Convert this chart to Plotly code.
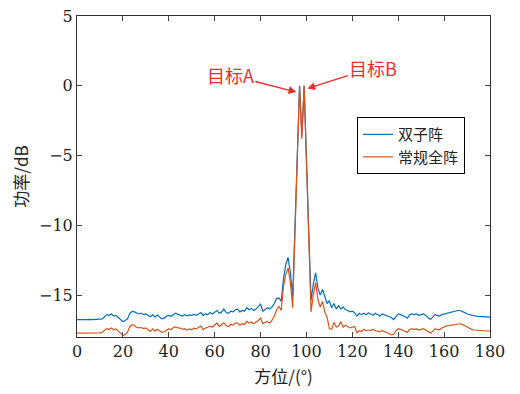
import plotly.graph_objects as go

angles = list(range(0, 181))

twin_array = [
    -16.75, -16.76, -16.74, -16.76, -16.75, -16.74, -16.76, -16.75, -16.74, -16.72,
    -16.74, -16.70, -16.55, -16.40, -16.45, -16.35, -16.50, -16.45, -16.60, -16.75,
    -16.90, -16.82, -16.70, -16.30, -16.17, -16.20, -16.30, -16.35, -16.30, -16.40,
    -16.35, -16.45, -16.55, -16.40, -16.58, -16.42, -16.55, -16.70, -16.65, -16.50,
    -16.45, -16.52, -16.40, -16.30, -16.38, -16.42, -16.50, -16.40, -16.48, -16.42,
    -16.45, -16.38, -16.45, -16.35, -16.25, -16.45, -16.35, -16.40, -16.25, -16.35,
    -16.20, -16.10, -16.30, -16.22, -16.00, -16.25, -16.30, -16.15, -16.20, -16.05,
    -16.00, -16.20, -16.10, -16.15, -15.90, -16.05, -15.95, -16.10, -16.00, -15.85,
    -15.65, -16.15, -16.00, -15.90, -16.00, -15.85, -15.60, -15.25, -15.20, -15.45,
    -13.80, -12.80, -12.30, -13.40, -15.10, -10.20, -5.10, 0.00, -3.60, 0.00,
    -5.20, -10.30, -15.40, -14.20, -13.40, -14.50, -15.00, -14.60, -15.10, -15.60,
    -15.40, -15.90, -15.60, -16.00, -15.75, -16.00, -15.85, -16.05, -16.10, -16.20,
    -16.15, -16.25, -16.50, -16.30, -16.40, -16.30, -16.40, -16.28, -16.35, -16.45,
    -16.30, -16.40, -16.50, -16.35, -16.40, -16.45, -16.55, -16.60, -16.75, -16.55,
    -16.35, -16.40, -16.45, -16.55, -16.65, -16.40, -16.35, -16.40, -16.35, -16.45,
    -16.40, -16.35, -16.45, -16.60, -16.75, -16.60, -16.40, -16.45, -16.50, -16.40,
    -16.35, -16.30, -16.30, -16.25, -16.20, -16.15, -16.10, -16.10, -16.15, -16.25,
    -16.35, -16.40, -16.45, -16.48, -16.50, -16.52, -16.54, -16.55, -16.56, -16.57,
    -16.57,
]

full_array = [
    -17.72, -17.72, -17.71, -17.73, -17.72, -17.70, -17.72, -17.71, -17.70, -17.68,
    -17.70, -17.66, -17.52, -17.40, -17.45, -17.35, -17.48, -17.42, -17.58, -17.75,
    -17.90, -17.82, -17.65, -17.25, -17.12, -17.18, -17.30, -17.35, -17.32, -17.40,
    -17.35, -17.48, -17.60, -17.42, -17.58, -17.45, -17.55, -17.67, -17.62, -17.50,
    -17.40, -17.48, -17.32, -17.28, -17.35, -17.36, -17.45, -17.40, -17.50, -17.42,
    -17.48, -17.36, -17.42, -17.30, -17.22, -17.48, -17.35, -17.30, -17.22, -17.30,
    -17.15, -17.00, -17.25, -17.12, -16.98, -17.20, -17.25, -17.10, -17.15, -17.00,
    -16.98, -17.15, -17.05, -17.10, -16.88, -17.00, -16.92, -17.05, -16.95, -16.82,
    -16.65, -17.05, -16.95, -16.90, -17.00, -16.80, -16.50, -16.05, -15.80, -16.10,
    -14.40, -13.50, -13.05, -14.10, -15.90, -10.60, -5.30, 0.00, -3.80, 0.00,
    -5.40, -10.80, -16.20, -15.00, -14.10, -15.30, -15.85, -15.45, -16.20, -16.60,
    -17.40, -17.45, -16.95, -17.30, -17.20, -16.90, -17.30, -17.15, -17.25, -17.35,
    -17.30, -17.25, -17.70, -17.55, -17.60, -17.45, -17.55, -17.50, -17.55, -17.45,
    -17.55, -17.60, -17.62, -17.55, -17.60, -17.70, -17.75, -17.85, -17.80, -17.55,
    -17.40, -17.45, -17.50, -17.60, -17.67, -17.45, -17.42, -17.45, -17.42, -17.50,
    -17.45, -17.40, -17.50, -17.62, -17.72, -17.60, -17.42, -17.45, -17.48, -17.35,
    -17.25, -17.20, -17.18, -17.15, -17.10, -17.08, -17.05, -17.05, -17.10, -17.20,
    -17.30, -17.40, -17.45, -17.50, -17.52, -17.54, -17.55, -17.56, -17.57, -17.57,
    -17.57,
]

x_ticks = [0, 20, 40, 60, 80, 100, 120, 140, 160, 180]
y_ticks = [5, 0, -5, -10, -15]
y_tick_labels = ["5", "0", "\u22125", "\u221210", "\u221215"]

series_names = ["双子阵", "常规全阵"]
series_colors = ["#0072BD", "#D95319"]

serif = "DejaVu Serif, Liberation Serif, serif"
cjk = "Noto Sans CJK SC, Liberation Serif, serif"

fig = go.Figure()
for name, ys, col in zip(series_names, [twin_array, full_array], series_colors):
    fig.add_trace(go.Scatter(x=angles, y=ys, mode="lines", name=name,
                             line=dict(color=col, width=1.2)))

fig.update_layout(
    width=512, height=386,
    margin=dict(l=69, r=30, t=8, b=57, autoexpand=False),
    paper_bgcolor="white", plot_bgcolor="white",
    font=dict(family=serif, size=16, color="#222"),
    showlegend=True,
    legend=dict(x=0.678, y=0.685, xanchor="left", yanchor="top",
                bgcolor="white", bordercolor="black", borderwidth=1,
                font=dict(family=cjk, size=15, color="#222"),
                itemwidth=30, tracegroupgap=0),
)
fig.update_xaxes(range=[0, 180], tickvals=x_ticks, ticks="inside", ticklen=5,
                 showline=True, mirror="ticks", linecolor="#333", linewidth=1,
                 showgrid=False, zeroline=False, automargin=False,
                 ticklabeloverflow="allow",
                 title=dict(text="方位/(°)", font=dict(family=cjk, size=17), standoff=10),
                 tickfont=dict(family=serif, size=16))
fig.update_yaxes(range=[-18, 5], tickvals=y_ticks, ticktext=y_tick_labels,
                 ticks="inside", ticklen=5,
                 showline=True, mirror="ticks", linecolor="#333", linewidth=1,
                 showgrid=False, zeroline=False, automargin=False,
                 ticklabeloverflow="allow",
                 title=dict(text="功率/dB", font=dict(family=cjk, size=17), standoff=6),
                 tickfont=dict(family=serif, size=16))

red = "#E8302A"
fig.add_annotation(x=95.6, y=-0.45, text="目标A", showarrow=True, arrowhead=2,
                   arrowsize=1.2, arrowwidth=1.3, arrowcolor=red, ax=-66, ay=-17,
                   font=dict(family=cjk, size=18, color=red))
fig.add_annotation(x=100.4, y=-0.2, text="目标B", showarrow=True, arrowhead=2,
                   arrowsize=1.2, arrowwidth=1.3, arrowcolor=red, ax=66, ay=-21,
                   font=dict(family=cjk, size=18, color=red))

fig.write_html("out.html")
